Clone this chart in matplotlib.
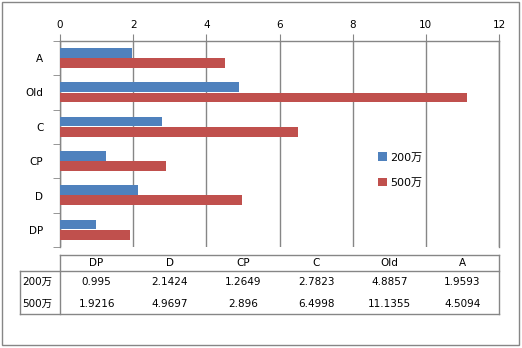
import matplotlib
matplotlib.use("Agg")
import matplotlib.pyplot as plt
from matplotlib.patches import Rectangle
from matplotlib.lines import Line2D
from matplotlib.transforms import blended_transform_factory

plt.rcParams['font.family'] = ['DejaVu Sans', 'Noto Sans CJK SC']

categories = ["A", "Old", "C", "CP", "D", "DP"]
series_names = ["200万", "500万"]
v200 = [1.9593, 4.8857, 2.7823, 1.2649, 2.1424, 0.995]
v500 = [4.5094, 11.1355, 6.4998, 2.896, 4.9697, 1.9216]
table_cols = ["DP", "D", "CP", "C", "Old", "A"]
t200 = ["0.995", "2.1424", "1.2649", "2.7823", "4.8857", "1.9593"]
t500 = ["1.9216", "4.9697", "2.896", "6.4998", "11.1355", "4.5094"]
xticks = [0, 2, 4, 6, 8, 10, 12]

blue = "#4F81BD"
red = "#C0504D"
gray = "#868686"
W, H = 522, 348
fs = 7.5

fig = plt.figure(figsize=(W / 100, H / 100), dpi=100)
fig.patches.append(Rectangle((2 / W, 3 / H), 517 / W, 343 / H, transform=fig.transFigure,
                             fill=False, edgecolor=gray, linewidth=1))

x0, x1 = 60, 499
ytop, ybot = 41, 247
ax = fig.add_axes([x0 / W, 1 - ybot / H, (x1 - x0) / W, (ybot - ytop) / H])

ypos = list(range(len(categories)))
bh = 0.29
ax.barh([y - 0.155 for y in ypos], v200, height=bh, color=blue, label=series_names[0], zorder=3)
ax.barh([y + 0.145 for y in ypos], v500, height=bh, color=red, label=series_names[1], zorder=3)

ax.set_xlim(0, 12)
ax.set_ylim(len(categories) - 0.5, -0.5)
ax.set_xticks(xticks)
ax.xaxis.tick_top()
ax.tick_params(axis='x', which='major', length=5, color=gray, labelsize=fs, pad=3)
ax.set_yticks(ypos)
ax.set_yticklabels(categories)
ax.tick_params(axis='y', which='major', length=0, labelsize=fs, pad=12)
ax.set_yticks([y - 0.5 for y in ypos] + [len(categories) - 0.5], minor=True)
ax.tick_params(axis='y', which='minor', length=5, color=gray)
ax.grid(axis='x', color=gray, linewidth=1, zorder=0)
ax.spines['bottom'].set_visible(False)
for s in ['top', 'left', 'right']:
    ax.spines[s].set_color(gray)
    ax.spines[s].set_linewidth(1)

# legend
ax.legend(loc='center left', bbox_to_anchor=(372 / W, 1 - 170 / H), bbox_transform=fig.transFigure,
          frameon=False, fontsize=fs + 0.5, handlelength=0.85, handleheight=0.85, handletextpad=0.3,
          labelspacing=1.35, borderpad=0)

# data table
tr = blended_transform_factory(ax.transData, fig.transFigure)
def fy(y):
    return 1 - y / H
lw = 1
t_top, t_mid, t_bot = 255, 271, 314
fig.add_artist(Line2D([x0 / W, x1 / W], [fy(t_top)] * 2, color=gray, lw=lw))
fig.add_artist(Line2D([20 / W, x1 / W], [fy(t_mid)] * 2, color=gray, lw=lw))
fig.add_artist(Line2D([20 / W, x1 / W], [fy(t_bot)] * 2, color=gray, lw=lw))
fig.add_artist(Line2D([20 / W] * 2, [fy(t_mid), fy(t_bot)], color=gray, lw=lw))
fig.add_artist(Line2D([x0 / W] * 2, [fy(t_top), fy(t_bot)], color=gray, lw=lw))
fig.add_artist(Line2D([x1 / W] * 2, [fy(t_top), fy(t_bot)], color=gray, lw=lw))

for i, c in enumerate(table_cols):
    xc = xticks[i] + 1
    fig.text(xc, fy(263), c, transform=tr, ha='center', va='center', fontsize=fs)
    fig.text(xc, fy(282), t200[i], transform=tr, ha='center', va='center', fontsize=fs)
    fig.text(xc, fy(304), t500[i], transform=tr, ha='center', va='center', fontsize=fs)
fig.text(22 / W, fy(282), series_names[0], ha='left', va='center', fontsize=fs)
fig.text(22 / W, fy(304), series_names[1], ha='left', va='center', fontsize=fs)

fig.savefig("out.png", dpi=100)
